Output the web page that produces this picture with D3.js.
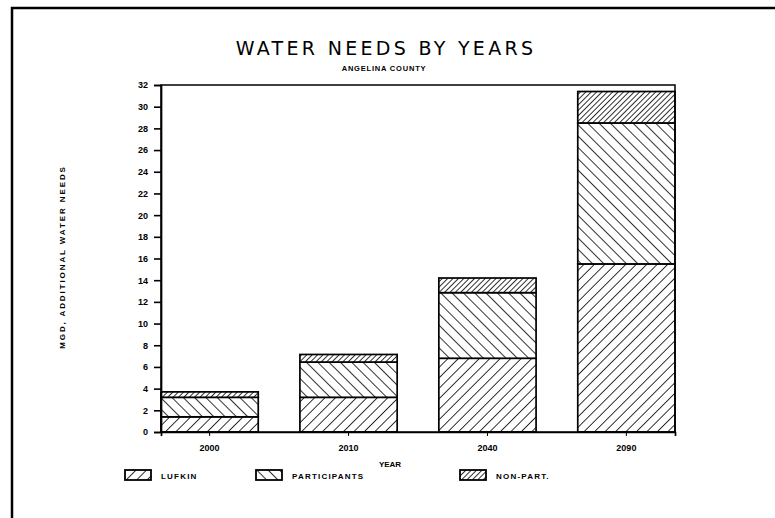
<!DOCTYPE html>
<html>
<head>
<meta charset="utf-8">
<script src="https://cdn.jsdelivr.net/npm/d3@7/dist/d3.min.js"></script>
<style>
  html, body { margin: 0; padding: 0; background: #fff; }
  svg { display: block; }
  text { fill: #000; }
</style>
</head>
<body>
<svg id="chart" width="775" height="518"></svg>
<script>
// Water needs by year, Angelina County (MGD)
const years = ["2000", "2010", "2040", "2090"];
const lufkin = [1.4, 3.2, 6.8, 15.5];
const participants = [1.8, 3.25, 6.05, 13.0];
const nonPart = [0.5, 0.7, 1.35, 2.9];
const seriesNames = ["LUFKIN", "PARTICIPANTS", "NON-PART."];
const yTicks = [0, 2, 4, 6, 8, 10, 12, 14, 16, 18, 20, 22, 24, 26, 28, 30, 32];

const rows = years.map((y, i) => ({
  year: y, LUFKIN: lufkin[i], PARTICIPANTS: participants[i], "NON-PART.": nonPart[i]
}));

const svg = d3.select("#chart");
const margin = { left: 161, right: 100, top: 85, bottom: 86 };
const W = 775, H = 518;
const FONT = "Liberation Sans, Arial, sans-serif";

// hatch patterns
const defs = svg.append("defs");
const hatch = [
  { id: "h-lufkin", gap: 7.4, angle: 45 },
  { id: "h-part", gap: 8.0, angle: -45 },
  { id: "h-non", gap: 3.8, angle: 45 }
];
hatch.forEach(h => {
  const p = defs.append("pattern")
    .attr("id", h.id)
    .attr("patternUnits", "userSpaceOnUse")
    .attr("width", h.gap).attr("height", h.gap)
    .attr("patternTransform", `rotate(${h.angle})`);
  p.append("rect").attr("width", h.gap).attr("height", h.gap).attr("fill", "#fff");
  p.append("line").attr("x1", 0).attr("y1", 0).attr("x2", 0).attr("y2", h.gap)
    .attr("stroke", "#000").attr("stroke-width", 1.6);
});
const fillFor = { "LUFKIN": "url(#h-lufkin)", "PARTICIPANTS": "url(#h-part)", "NON-PART.": "url(#h-non)" };

// page border (left and top edges)
svg.append("path")
  .attr("d", `M12,${H} L12,8 L${W},8`)
  .attr("fill", "none").attr("stroke", "#000").attr("stroke-width", 2.5);

const x = d3.scaleBand()
  .domain(years)
  .range([margin.left, W - margin.right])
  .paddingInner(0.3)
  .paddingOuter(0);

const y = d3.scaleLinear()
  .domain([0, 32])
  .range([H - margin.bottom, margin.top]);

const stack = d3.stack().keys(seriesNames)(rows);

// stacked bars
svg.append("g").selectAll("g")
  .data(stack)
  .join("g")
  .attr("fill", d => fillFor[d.key])
  .selectAll("rect")
  .data(d => d)
  .join("rect")
  .attr("x", d => x(d.data.year))
  .attr("width", x.bandwidth())
  .attr("y", d => y(d[1]))
  .attr("height", d => y(d[0]) - y(d[1]))
  .attr("stroke", "#000")
  .attr("stroke-width", 1.7);

// plot frame
svg.append("rect")
  .attr("x", margin.left).attr("y", margin.top)
  .attr("width", W - margin.right - margin.left)
  .attr("height", H - margin.bottom - margin.top)
  .attr("fill", "none").attr("stroke", "#000").attr("stroke-width", 1.5);

// y axis
const yAxis = d3.axisLeft(y).tickValues(yTicks).tickSize(7).tickPadding(6);
const gy = svg.append("g").attr("transform", `translate(${margin.left},0)`).call(yAxis);
gy.select(".domain").attr("stroke-width", 1.7);
gy.selectAll(".tick line").attr("stroke-width", 1.6);
gy.selectAll("text")
  .attr("font-family", FONT)
  .attr("font-weight", "bold").attr("font-size", 9);

// x axis
const xAxis = d3.axisBottom(x).tickSize(4).tickPadding(9);
const gx = svg.append("g").attr("transform", `translate(0,${H - margin.bottom})`).call(xAxis);
gx.select(".domain").attr("stroke-width", 1.7);
gx.selectAll("text")
  .attr("font-family", FONT)
  .attr("font-weight", "bold").attr("font-size", 9);

// titles
svg.append("text")
  .attr("x", 386).attr("y", 55)
  .attr("text-anchor", "middle")
  .attr("font-family", "DejaVu Sans, sans-serif")
  .attr("font-size", 19).attr("letter-spacing", 3.3)
  .text("WATER NEEDS BY YEARS");

svg.append("text")
  .attr("x", 384).attr("y", 71)
  .attr("text-anchor", "middle")
  .attr("font-family", FONT)
  .attr("font-weight", "bold").attr("font-size", 7.5).attr("letter-spacing", 0.8)
  .text("ANGELINA COUNTY");

svg.append("text")
  .attr("transform", `translate(65,257) rotate(-90)`)
  .attr("text-anchor", "middle")
  .attr("font-family", FONT)
  .attr("font-weight", "bold").attr("font-size", 8).attr("letter-spacing", 1.9)
  .text("MGD, ADDITIONAL WATER NEEDS");

svg.append("text")
  .attr("x", 390).attr("y", 467)
  .attr("text-anchor", "middle")
  .attr("font-family", FONT)
  .attr("font-weight", "bold").attr("font-size", 8)
  .text("YEAR");

// legend
const legendX = [125, 256, 460];
const lg = svg.append("g").selectAll("g")
  .data(seriesNames)
  .join("g")
  .attr("transform", (d, i) => `translate(${legendX[i]},470)`);
lg.append("rect")
  .attr("width", 26).attr("height", 10)
  .attr("fill", d => fillFor[d])
  .attr("stroke", "#000").attr("stroke-width", 1.8);
lg.append("text")
  .attr("x", 36).attr("y", 8.5)
  .attr("font-family", FONT)
  .attr("font-weight", "bold").attr("font-size", 8).attr("letter-spacing", 1.2)
  .text(d => d);
</script>
</body>
</html>
